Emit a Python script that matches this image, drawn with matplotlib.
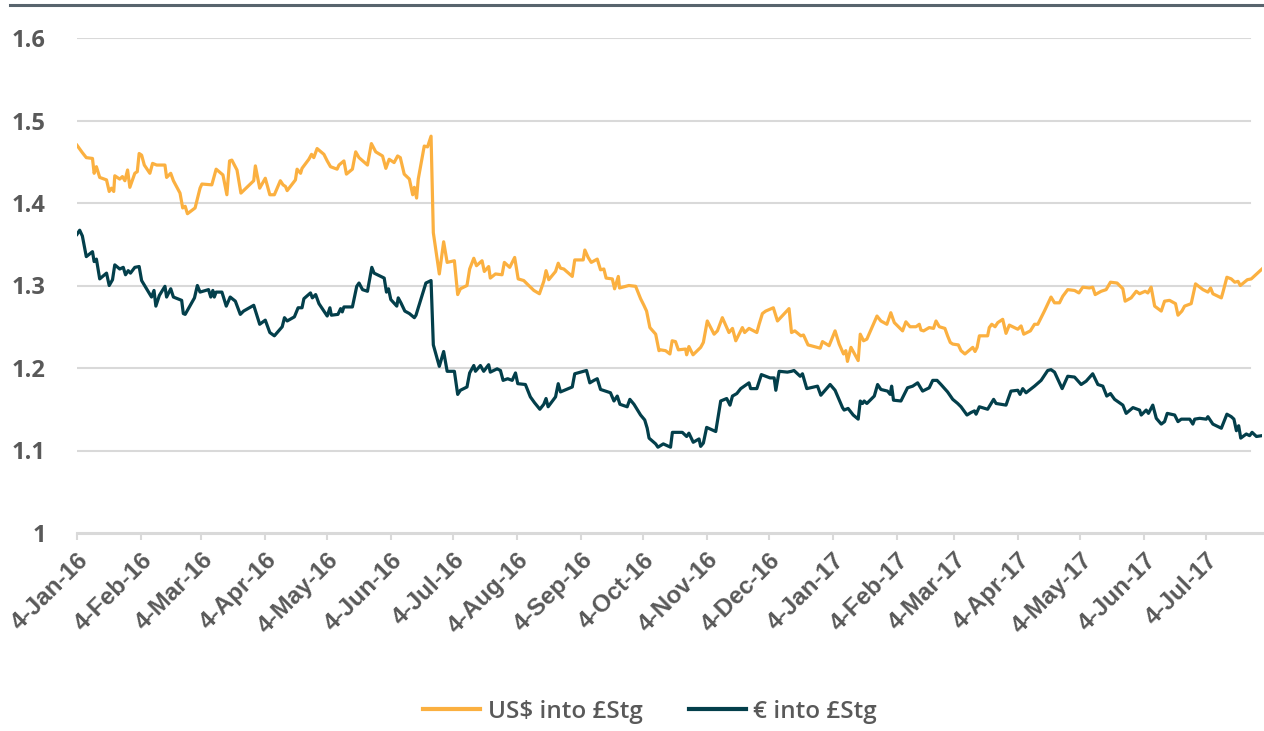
import matplotlib
matplotlib.use("Agg")
import matplotlib.pyplot as plt
from matplotlib.lines import Line2D
import pandas as pd

# ---- data (days since 4-Jan-2016, rate) ----
usd_days = [0, 2.6, 4.5, 7.5, 8.3, 9.4, 11, 14.3, 15.6, 16.7, 17.8, 18.3, 20.7, 22, 23.2, 24.5, 25.6, 28, 29.2, 30.1,
            31.3, 32.6, 35.3, 36.6, 38.6, 42.6, 43.4, 45.4, 46.7, 49.9, 51.2, 52.4, 53.5, 57.2, 59.6, 60.5, 65.3, 67.4,
            70.7, 72.6, 73.9, 75, 77.5, 79.4, 85.6, 86.4, 88.5, 91.2, 93.4, 95.6, 98.5, 99.8, 101, 101.8, 105.8, 106.6,
            108.3, 109, 112.3, 113.6, 114.7, 116.3, 119.6, 121.2, 122.8, 126, 126.9, 129.3, 130.5, 133.4, 135, 136.6,
            140.7, 142.6, 144.7, 148, 149.6, 151.2, 153.6, 155.3, 156.6, 158.5, 161, 162.6, 163.4, 164.5, 165.3, 168.2,
            169.8, 171.5, 172.6, 175.5, 177.6, 179.3, 182.8, 184.4,
            185.7, 188.9, 190.2, 192.2, 193.5, 196.2, 197.3, 199.4, 200.2, 202.7, 205.9, 207, 209.6, 212, 213.7, 216.4,
            218, 221.3, 224, 226.1, 227.2, 228.5, 231.8, 233.1, 234.2, 235.8, 239.9, 241.1, 245.2, 246, 247.6, 249.1,
            252, 253.6, 255.2, 256.3, 259.3, 260.4, 262.2, 262.8, 267.3, 270.6, 273, 274.6, 275.9, 277.5, 280.3, 281.9,
            282.7, 285.1, 287.2, 288.3, 289.9, 291.3, 294.8, 295.3, 296.4, 298.4, 302.1, 303.4, 305.3, 308.6, 310.2,
            312.6, 315.8, 317.5, 319.1, 322.3, 323.4, 325.5, 329.3, 330.4, 332, 333.6, 337.3, 339.3, 344.9, 346.1,
            347.7, 350.6, 351.9, 354.1, 360, 361.1, 364.3, 367.2, 369.2, 371.3, 372.4, 373.2, 374.9, 378.4, 379.4,
            381, 382.6, 385.4, 387.5, 389.4, 392.3, 394.2, 395.9, 399.9, 401.5, 403.5, 406.4, 408, 408.8, 410.1, 412.8,
            414.9, 416.1, 417.7, 420.4, 421.7, 423, 424.2, 426.9, 428.2, 430.1, 433.9, 435, 436, 437.1, 441.1, 441.9,
            443.1, 444.7, 446, 448.4, 450, 451.6, 455.7, 457.3, 458.6, 461.8, 463.8, 465.4, 468.6, 471.8, 473.5, 475.9,
            477.5, 479.9, 483.2, 485.3, 487.2, 490.4, 492, 493.2, 496.1, 498.5, 500.6, 503.8, 506.6, 507.7, 510.6,
            513.1, 514.7, 517.4, 518.7, 520.3, 522, 525.2, 526.8, 529.2, 532.1, 533.3, 535.2, 536.5, 539.7, 541.8,
            545.4, 547.8, 549.1, 550.2, 554.3, 555.1, 557, 559.1, 560.8, 562.4, 563.5, 566.9, 568.8, 574]
usd_vals = [1.470, 1.461, 1.455, 1.454, 1.436, 1.444, 1.431, 1.428, 1.414, 1.418, 1.414, 1.433, 1.429, 1.432, 1.427,
            1.440, 1.419, 1.436, 1.438, 1.460, 1.458, 1.446, 1.436, 1.448, 1.446, 1.446, 1.431, 1.436, 1.427, 1.412,
            1.394, 1.396, 1.387, 1.394, 1.418, 1.423, 1.422, 1.441, 1.434, 1.410, 1.451, 1.452, 1.440, 1.412, 1.427,
            1.445, 1.418, 1.430, 1.410, 1.410, 1.427, 1.422, 1.420, 1.415, 1.428, 1.441, 1.436, 1.442, 1.453, 1.459,
            1.455, 1.466, 1.459, 1.451, 1.444, 1.441, 1.446, 1.451, 1.435, 1.441, 1.462, 1.455, 1.446, 1.472, 1.462,
            1.457, 1.442, 1.453, 1.449, 1.457, 1.455, 1.435, 1.429, 1.410, 1.419, 1.406, 1.429, 1.469, 1.468, 1.481,
            1.364, 1.314, 1.353, 1.328, 1.330, 1.289,
            1.296, 1.300, 1.320, 1.333, 1.324, 1.330, 1.317, 1.323, 1.309, 1.314, 1.313, 1.328, 1.322, 1.334, 1.308,
            1.306, 1.302, 1.294, 1.290, 1.305, 1.318, 1.307, 1.317, 1.327, 1.321, 1.320, 1.311, 1.331, 1.331, 1.343,
            1.334, 1.328, 1.332, 1.319, 1.320, 1.309, 1.308, 1.296, 1.311, 1.297, 1.300, 1.299, 1.284, 1.276, 1.269,
            1.249, 1.241, 1.221, 1.222, 1.221, 1.217, 1.233, 1.232, 1.222, 1.223, 1.216, 1.226, 1.216, 1.225, 1.231,
            1.257, 1.241, 1.245, 1.261, 1.243, 1.248, 1.233, 1.249, 1.243, 1.248, 1.243, 1.253, 1.266, 1.269, 1.273,
            1.257, 1.272, 1.243, 1.245, 1.239, 1.240, 1.228, 1.224, 1.232, 1.227, 1.245, 1.229, 1.217, 1.221, 1.208,
            1.225, 1.209, 1.241,
            1.233, 1.235, 1.251, 1.263, 1.257, 1.253, 1.267, 1.255, 1.245, 1.256, 1.250, 1.250, 1.253, 1.246, 1.245,
            1.249, 1.248, 1.257, 1.250, 1.248, 1.239, 1.231, 1.229, 1.228, 1.221, 1.217, 1.225, 1.220, 1.225, 1.239,
            1.239, 1.249, 1.253, 1.250, 1.255, 1.259, 1.242, 1.252, 1.247, 1.251, 1.241, 1.245, 1.253, 1.253, 1.269,
            1.286, 1.279, 1.279, 1.287, 1.295, 1.294, 1.291, 1.298, 1.297, 1.298, 1.289, 1.293, 1.295, 1.304, 1.303,
            1.296, 1.281, 1.285, 1.293, 1.290, 1.293, 1.291, 1.298, 1.275, 1.269, 1.281, 1.282, 1.278, 1.264, 1.269,
            1.275, 1.278, 1.302, 1.295, 1.292, 1.297, 1.290, 1.285, 1.292, 1.310, 1.308, 1.304, 1.305, 1.300, 1.307,
            1.308, 1.320]

eur_days = [0, 1.3, 2.6, 4.5, 7.5, 8.3, 9.4, 11, 14.3, 15.6, 17.2, 18.3, 20.7, 22.4, 23.5, 24.8, 25.9, 28, 30.1, 31.3,
            33.7, 36.1, 37.3, 38.2, 39.9, 42.6, 43.4, 45.4, 46.7, 50.7, 51.5, 52.4, 56.9, 58.3, 59.6, 63.7, 64.8, 65.8,
            66.5, 67.4, 70.2, 72.3, 74.2, 76.7, 79.1, 80.7, 85.6, 88.5, 91.2, 93.4, 95.6, 99.4, 100.5, 101.8, 105.3,
            107.1, 109, 109.9, 113.1, 114, 115.6, 117.2, 121.2, 122.5, 123.2, 126.4, 127.7, 128.5, 129.3, 133.4, 135.5,
            136.6, 138.3, 140.7, 142.8, 143.9, 148.8, 149.9, 150.9, 152, 154.9, 155.6, 156.9, 158.8, 161, 163.4, 164.2,
            169, 171.5, 172.6, 175.5, 177.6, 179.3, 182.8, 184.4,
            185.7, 188.9, 190.2, 192.2, 193, 195.4, 197, 199.4, 200.2, 203.5, 205.1, 206.4, 208.6, 210.8, 212.4, 213.5,
            217.2, 219.6, 221.6, 224.2, 226.1, 227.2, 228.2, 231.8, 233.1, 234.2, 239.9, 241.1, 245.5, 246.8, 248.4,
            250.4, 252, 253.6, 258.4, 260.1, 261.7, 263, 266.5, 267.8, 269.8, 273, 275, 276.2, 277.1, 280.3, 281.4,
            284, 287.5, 288.4, 293.2, 295.3, 296.4, 298.5, 301.3, 302.1, 303.4, 305, 309.4, 311.8, 314.7, 316.3, 317.5,
            319.6, 321.5, 325.5, 326.3, 329.3, 331.5, 335.7, 337.7, 338.5, 340.1, 344.1, 346.1, 347.3, 350.3, 351.4,
            353.5, 358.7, 360.3, 364.8, 367.2, 370.8, 371.6, 373.5, 376, 378.4, 379.4,
            380.5, 381.3, 382.6, 386.2, 387.8, 389.4, 392.6, 393.9, 394.6, 395.5, 399.1, 402.3, 404.8, 407.2, 409.6,
            412.8, 414.5, 416.6, 418.5, 421.7, 424.2, 426.6, 428.2, 431.1, 433, 434.7, 435.5, 437.1, 441.1, 444, 445.2,
            450, 452.4, 455.7, 456.8, 458.1, 459.7, 463.8, 467, 470.2, 471.8, 473.5, 477.2, 479.9, 483.2, 486.4, 488.8,
            492, 494.5, 496.9, 498.8, 500.6, 502.6, 506.6, 508.2, 511.5, 514.7, 515.5, 517.9, 519, 521.1, 522.8, 525.2,
            526.8, 528.1, 531.7, 533.3, 534.9, 539, 540.5, 541.4, 543.8, 547, 547.8, 550.2, 554.3, 557, 559.1, 560.4,
            561.6, 562.7, 563.7, 566.4, 568, 569.2, 571.3, 574]
eur_vals = [1.362, 1.367, 1.360, 1.335, 1.341, 1.329, 1.332, 1.308, 1.315, 1.300, 1.307, 1.325, 1.320, 1.322, 1.313,
            1.318, 1.315, 1.322, 1.323, 1.306, 1.296, 1.286, 1.294, 1.275, 1.288, 1.299, 1.286, 1.296, 1.286, 1.282,
            1.266, 1.265, 1.285, 1.300, 1.292, 1.295, 1.286, 1.294, 1.286, 1.292, 1.292, 1.275, 1.286, 1.281, 1.265,
            1.269, 1.276, 1.253, 1.258, 1.243, 1.239, 1.250, 1.261, 1.257, 1.262, 1.273, 1.273, 1.284, 1.291, 1.285,
            1.289, 1.278, 1.263, 1.273, 1.264, 1.265, 1.272, 1.268, 1.274, 1.274, 1.299, 1.303, 1.295, 1.293, 1.322,
            1.315, 1.309, 1.292, 1.296, 1.283, 1.275, 1.285, 1.279, 1.269, 1.266, 1.261, 1.264, 1.303, 1.306, 1.228,
            1.202, 1.220, 1.196, 1.196, 1.168,
            1.173, 1.177, 1.194, 1.203, 1.196, 1.203, 1.196, 1.204, 1.195, 1.199, 1.197, 1.185, 1.187, 1.185, 1.194,
            1.181, 1.180, 1.165, 1.158, 1.150, 1.156, 1.163, 1.153, 1.165, 1.181, 1.171, 1.177, 1.193, 1.196, 1.197,
            1.182, 1.185, 1.187, 1.174, 1.170, 1.160, 1.166, 1.156, 1.153, 1.162, 1.156, 1.143, 1.137, 1.127, 1.115,
            1.108, 1.104, 1.108, 1.104, 1.122, 1.122, 1.117, 1.121, 1.110, 1.114, 1.105, 1.109, 1.128, 1.123, 1.160,
            1.163, 1.155, 1.166, 1.169, 1.175, 1.182, 1.175, 1.175, 1.192, 1.188, 1.188, 1.173, 1.196, 1.195, 1.196,
            1.197, 1.190, 1.193, 1.175, 1.178, 1.167, 1.180, 1.173, 1.152, 1.149, 1.151, 1.143, 1.138, 1.160,
            1.157, 1.160, 1.157, 1.166, 1.180, 1.174, 1.172, 1.168, 1.178, 1.161, 1.160, 1.176, 1.178, 1.182, 1.172,
            1.176, 1.185, 1.185, 1.180, 1.171, 1.162, 1.157, 1.153, 1.143, 1.146, 1.148, 1.144, 1.153, 1.150, 1.162,
            1.157, 1.155, 1.172, 1.173, 1.168, 1.175, 1.170, 1.178, 1.185, 1.197, 1.198, 1.195, 1.175, 1.190, 1.189,
            1.180, 1.184, 1.193, 1.180, 1.178, 1.166, 1.169, 1.162, 1.155, 1.145, 1.152, 1.149, 1.143, 1.149, 1.145,
            1.155, 1.139, 1.132, 1.135, 1.145, 1.143, 1.135, 1.138, 1.138, 1.132, 1.138, 1.139, 1.138, 1.141, 1.132,
            1.127, 1.144, 1.141, 1.138, 1.124, 1.130, 1.115, 1.120, 1.118, 1.122, 1.117, 1.118]

series_labels = ["US$ into £Stg", "€ into £Stg"]
y_ticks = [1, 1.1, 1.2, 1.3, 1.4, 1.5, 1.6]
y_tick_labels = ["1", "1.1", "1.2", "1.3", "1.4", "1.5", "1.6"]
start = pd.Timestamp("2016-01-04")
x_ticks = [start + pd.DateOffset(months=i) for i in range(19)]
x_tick_labels = [f"{d.day}-{d:%b}-{d:%y}" for d in x_ticks]

ORANGE = "#FBB040"
TEAL = "#033F4B"
GRID = "#D9D9D9"
TXT = "#595959"

usd_dates = start + pd.to_timedelta(usd_days, unit="D")
eur_dates = start + pd.to_timedelta(eur_days, unit="D")

fig = plt.figure(figsize=(12.64, 7.31), dpi=100)
ax = fig.add_axes([77 / 1264, 1 - 533 / 731, (1262 - 77) / 1264, (533 - 38) / 731])

ax.plot(usd_dates, usd_vals, color=ORANGE, lw=2.3, label=series_labels[0], solid_joinstyle="round", zorder=3)
ax.plot(eur_dates, eur_vals, color=TEAL, lw=2.3, label=series_labels[1], solid_joinstyle="round", zorder=3)

ax.set_ylim(1, 1.6)
ax.set_xlim(start, start + pd.Timedelta(days=574))

for v in y_ticks[1:]:
    ax.axhline(v, xmin=0, xmax=(1250 - 77) / (1262 - 77), color=GRID, lw=1.5, zorder=1)

for s in ["top", "right", "left"]:
    ax.spines[s].set_visible(False)
ax.spines["bottom"].set_color(GRID)
ax.spines["bottom"].set_linewidth(2.2)

ax.set_yticks(y_ticks)
ax.set_yticklabels(y_tick_labels, fontsize=17, fontweight="bold", color=TXT, family="Open Sans")
ax.tick_params(axis="y", length=0, pad=22.5)

ax.set_xticks(x_ticks)
ax.set_xticklabels(x_tick_labels, rotation=45, ha="right", rotation_mode="anchor",
                   fontsize=17.5, fontweight="bold", color=TXT, family="Liberation Sans")
ax.tick_params(axis="x", length=5, width=1.5, color=GRID, pad=6)

# top separator line
fig.add_artist(Line2D([10 / 1264, 1], [1 - 5 / 731, 1 - 5 / 731], color="#58646D", lw=2.2))

leg = fig.legend(loc="center", bbox_to_anchor=(650 / 1264, 1 - 712 / 731), ncol=2, frameon=False,
                 handlelength=2.35, columnspacing=1.9, handletextpad=0.3,
                 prop={"family": "Open Sans", "weight": "semibold", "size": 17.5})
for line in leg.get_lines():
    line.set_linewidth(3)
for t in leg.get_texts():
    t.set_color(TXT)

fig.savefig("out.png", dpi=100)
